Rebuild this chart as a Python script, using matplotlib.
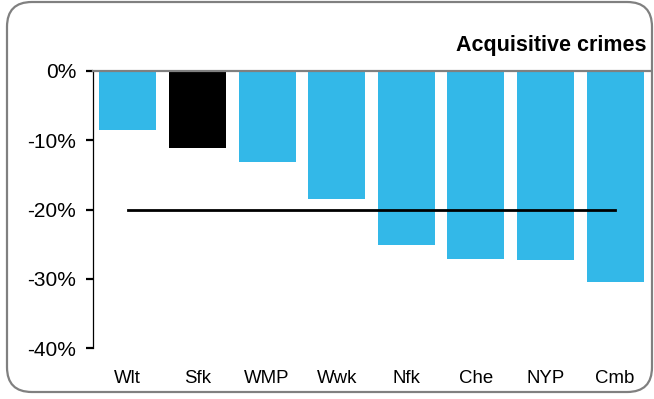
import matplotlib
matplotlib.use("Agg")
import matplotlib.pyplot as plt
from matplotlib.patches import FancyBboxPatch
from matplotlib.ticker import FuncFormatter

plt.rcParams['font.family'] = ['Liberation Sans', 'DejaVu Sans']

# Change in acquisitive crime by force area (%)
forces = ["Wlt", "Sfk", "WMP", "Wwk", "Nfk", "Che", "NYP", "Cmb"]
change = [-8.5, -11.1, -13.1, -18.5, -25.1, -27.1, -27.3, -30.5]
highlight = "Sfk"
average = -20.0
y_ticks = [0, -10, -20, -30, -40]

blue = "#33B8E8"
grey = "#808080"

W, H, DPI = 654, 399, 100
fig = plt.figure(figsize=(W / DPI, H / DPI), dpi=DPI)

# Rounded frame around the whole chart
frame = FancyBboxPatch((7 / W, 7 / H), (652 - 7) / W, (397 - 7) / H,
                       boxstyle="round,pad=0,rounding_size=0.038",
                       transform=fig.transFigure, fill=False,
                       edgecolor=grey, linewidth=1.6, mutation_aspect=W / H)
fig.patches.append(frame)

ax = fig.add_axes([93 / W, 1 - 348 / H, (650 - 93) / W, (348 - 71) / H])

x = list(range(len(forces)))
colors = ["black" if f == highlight else blue for f in forces]
ax.bar(x, change, width=0.82, color=colors, zorder=2)

# Average line across the forces
ax.plot([x[0], x[-1]], [average, average], color="black", linewidth=2.0, zorder=3)

# Zero baseline
ax.axhline(0, color=grey, linewidth=1.6, zorder=4, clip_on=False)

ax.set_xlim(-0.5, len(forces) - 0.5)
ax.set_ylim(-40, 0)
ax.set_yticks(y_ticks)
ax.yaxis.set_major_formatter(FuncFormatter(lambda v, p: f"{v:.0f}%"))
ax.set_xticks(x)
ax.set_xticklabels(forces, fontsize=13.4)

for s in ["top", "right", "bottom"]:
    ax.spines[s].set_visible(False)
ax.spines["left"].set_linewidth(0.9)
ax.spines["left"].set_color("black")

ax.tick_params(axis="x", length=0, pad=16)
ax.tick_params(axis="y", length=5, width=1.0, pad=7, labelsize=15, color="black")
for t in ax.yaxis.get_major_ticks():
    if t.get_loc() == 0:
        t.tick1line.set_color(grey)
        t.tick1line.set_markeredgewidth(1.6)

fig.text(647 / W, 1 - 46 / H, "Acquisitive crimes", ha="right", va="center",
         fontsize=15.5, fontweight="bold")

fig.savefig("out.png", dpi=DPI)
